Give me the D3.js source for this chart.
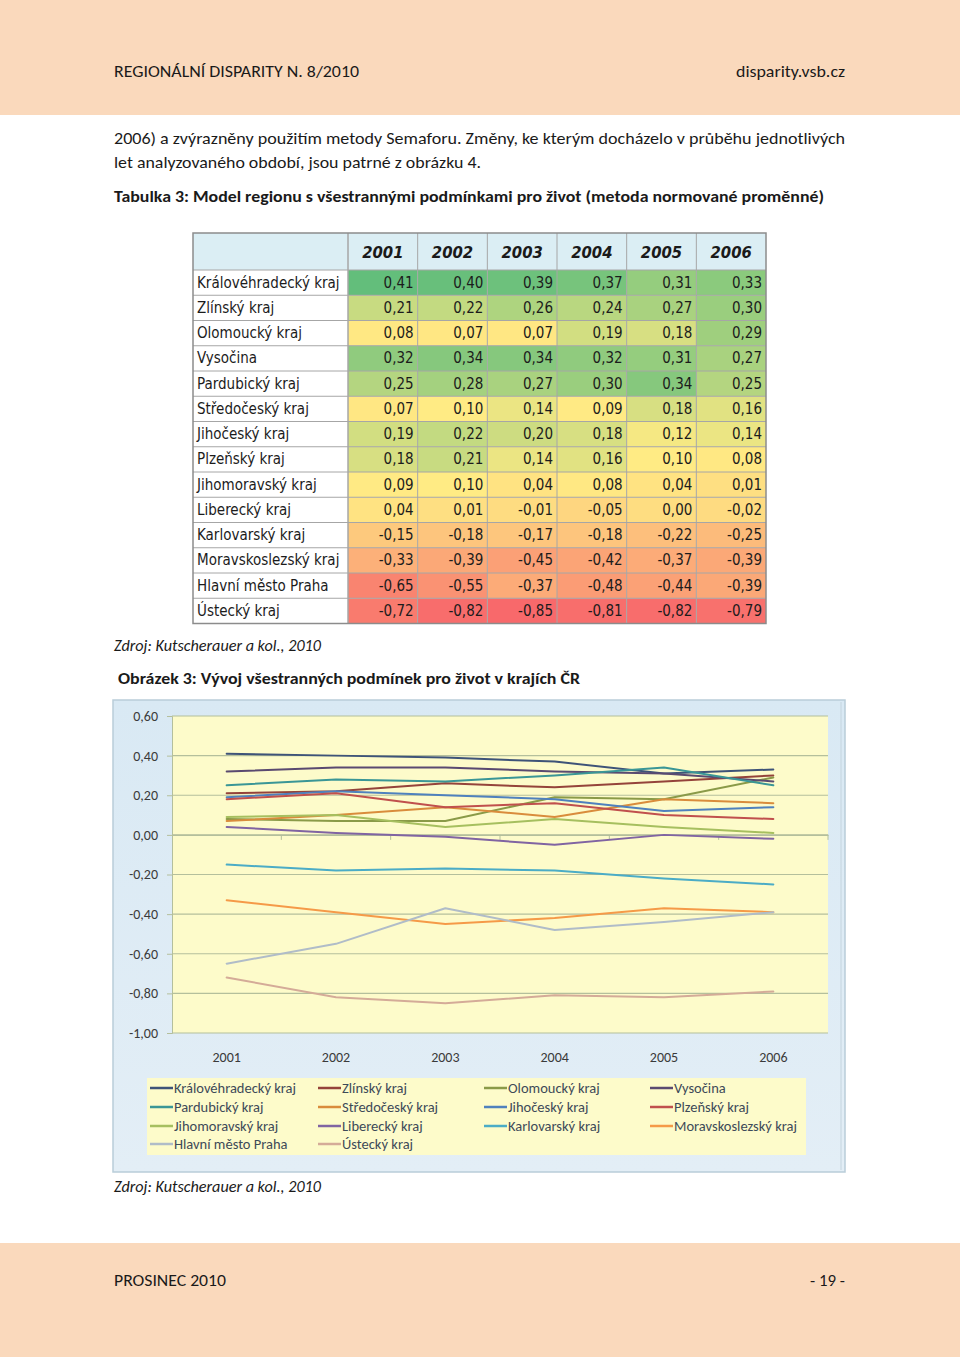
<!DOCTYPE html>
<html><head><meta charset="utf-8">
<script src="https://cdn.jsdelivr.net/npm/d3@7"></script>
<style>
html,body{margin:0;padding:0;background:#fff;}
svg{display:block;}
</style></head>
<body>
<svg id="page" width="960" height="1357"></svg>
<script>
// ---------- DATA ----------
const years = ["2001","2002","2003","2004","2005","2006"];
const regions = ["Královéhradecký kraj","Zlínský kraj","Olomoucký kraj","Vysočina","Pardubický kraj","Středočeský kraj","Jihočeský kraj","Plzeňský kraj","Jihomoravský kraj","Liberecký kraj","Karlovarský kraj","Moravskoslezský kraj","Hlavní město Praha","Ústecký kraj"];
const valKralovehradecky = [0.41,0.40,0.39,0.37,0.31,0.33];
const valZlinsky = [0.21,0.22,0.26,0.24,0.27,0.30];
const valOlomoucky = [0.08,0.07,0.07,0.19,0.18,0.29];
const valVysocina = [0.32,0.34,0.34,0.32,0.31,0.27];
const valPardubicky = [0.25,0.28,0.27,0.30,0.34,0.25];
const valStredocesky = [0.07,0.10,0.14,0.09,0.18,0.16];
const valJihocesky = [0.19,0.22,0.20,0.18,0.12,0.14];
const valPlzensky = [0.18,0.21,0.14,0.16,0.10,0.08];
const valJihomoravsky = [0.09,0.10,0.04,0.08,0.04,0.01];
const valLiberecky = [0.04,0.01,-0.01,-0.05,0.00,-0.02];
const valKarlovarsky = [-0.15,-0.18,-0.17,-0.18,-0.22,-0.25];
const valMoravskoslezsky = [-0.33,-0.39,-0.45,-0.42,-0.37,-0.39];
const valPraha = [-0.65,-0.55,-0.37,-0.48,-0.44,-0.39];
const valUstecky = [-0.72,-0.82,-0.85,-0.81,-0.82,-0.79];
const seriesValues = [valKralovehradecky,valZlinsky,valOlomoucky,valVysocina,valPardubicky,valStredocesky,valJihocesky,valPlzensky,valJihomoravsky,valLiberecky,valKarlovarsky,valMoravskoslezsky,valPraha,valUstecky];
const lineColors = ["#3e5378","#94433a","#8a9a48","#5a4a70","#3a9696","#d98c3c","#4f81bd","#c0504d","#a6bf5f","#8064a2","#4bacc6","#f59a48","#b0bcc8","#d4ab98"];
const yTicks = [-1.0,-0.8,-0.6,-0.4,-0.2,0.0,0.2,0.4,0.6];

// ---------- SETUP ----------
const svg = d3.select("#page");
const loc = d3.formatLocale({decimal:",",thousands:" ",grouping:[3],currency:["",""],minus:"-"});
const fmt = loc.format(".2f");
const textFont = "Carlito, Lato, 'Open Sans', sans-serif";

// page bands
svg.append("rect").attr("x",0).attr("y",0).attr("width",960).attr("height",115).attr("fill","#fad9bc");
svg.append("rect").attr("x",0).attr("y",1243).attr("width",960).attr("height",114).attr("fill","#fad9bc");

function txt(x,y,s,opt={}){
  const t = svg.append("text").attr("x",x).attr("y",y).text(s)
    .attr("font-family",opt.family||textFont).attr("font-size",opt.size||16)
    .attr("fill",opt.fill||"#1a1a1a");
  if(opt.weight) t.attr("font-weight",opt.weight);
  if(opt.style) t.attr("font-style",opt.style);
  if(opt.anchor) t.attr("text-anchor",opt.anchor);
  if(opt.len) t.attr("textLength",opt.len).attr("lengthAdjust","spacingAndGlyphs");
  return t;
}
txt(114,77,"REGIONÁLNÍ DISPARITY N. 8/2010",{len:245});
txt(845,77,"disparity.vsb.cz",{anchor:"end",len:109});
txt(114,144,"2006) a zvýrazněny použitím metody Semaforu. Změny, ke kterým docházelo v průběhu jednotlivých",{len:731});
txt(114,168,"let analyzovaného období, jsou patrné z obrázku 4.",{len:367});
txt(114,202,"Tabulka 3: Model regionu s všestrannými podmínkami pro život (metoda normované proměnné)",{weight:"bold",len:710});
txt(114,651,"Zdroj: Kutscherauer a kol., 2010",{style:"italic",len:207});
txt(118,684,"Obrázek 3: Vývoj všestranných podmínek pro život v krajích ČR",{weight:"bold",len:462});
txt(114,1192,"Zdroj: Kutscherauer a kol., 2010",{style:"italic",len:207});
txt(114,1286,"PROSINEC 2010",{len:112});
txt(845,1286,"- 19 -",{anchor:"end",len:35});

// ---------- TABLE ----------
const tbl = svg.append("g");
const tLeft = 193, tLabelRight = 348, tRight = 766, tTop = 233, tHeadBottom = 270, tBottom = 623.5;
const colX = d3.scaleBand().domain(years).range([tLabelRight,tRight]);
const rowY = d3.scaleBand().domain(regions).range([tHeadBottom,tBottom]);
const allVals = seriesValues.flat();
const heat = d3.scaleLinear()
  .domain([d3.min(allVals), d3.median(allVals), d3.max(allVals)])
  .range(["#f8696b","#ffeb84","#63be7b"]);
const tableFont = "'DejaVu Sans Condensed', Tahoma, 'DejaVu Sans', sans-serif";

tbl.append("rect").attr("x",tLeft).attr("y",tTop).attr("width",tRight-tLeft).attr("height",tHeadBottom-tTop).attr("fill","#dbeef4");
regions.forEach((r,i)=>{
  tbl.append("rect").attr("x",tLeft).attr("y",rowY(r)).attr("width",tLabelRight-tLeft).attr("height",rowY.bandwidth()).attr("fill","#ffffff");
  years.forEach((yr,j)=>{
    tbl.append("rect").attr("x",colX(yr)).attr("y",rowY(r)).attr("width",colX.bandwidth()).attr("height",rowY.bandwidth())
      .attr("fill",heat(seriesValues[i][j]));
    tbl.append("text").attr("x",colX(yr)+colX.bandwidth()-4).attr("y",rowY(r)+rowY.bandwidth()/2+5)
      .attr("text-anchor","end").attr("font-family",tableFont).attr("font-size",15).attr("fill","#1c1c1c")
      .text(fmt(seriesValues[i][j]));
  });
  const lt = tbl.append("text").attr("x",tLeft+4).attr("y",rowY(r)+rowY.bandwidth()/2+5)
    .attr("font-family",tableFont).attr("font-size",15).attr("fill","#1c1c1c").text(r);
  const w = lt.node().getComputedTextLength();
  if (w > 143) lt.attr("textLength",143).attr("lengthAdjust","spacingAndGlyphs");
});
years.forEach(yr=>{
  tbl.append("text").attr("x",colX(yr)+colX.bandwidth()/2).attr("y",(tTop+tHeadBottom)/2+6)
    .attr("text-anchor","middle").attr("font-family",tableFont).attr("font-size",16.5)
    .attr("font-weight","bold").attr("font-style","italic").attr("fill","#1a1a1a").text(yr);
});
// grid lines
const gridCol = "#a6a6a6";
[tLabelRight].concat(years.map(y=>colX(y))).forEach(x=>{
  tbl.append("line").attr("x1",x).attr("x2",x).attr("y1",tTop).attr("y2",tBottom).attr("stroke",gridCol).attr("stroke-width",1);
});
[tHeadBottom].concat(regions.map(r=>rowY(r)+rowY.bandwidth())).forEach(y=>{
  tbl.append("line").attr("x1",tLeft).attr("x2",tRight).attr("y1",y).attr("y2",y).attr("stroke",gridCol).attr("stroke-width",1);
});
tbl.append("rect").attr("x",tLeft).attr("y",tTop).attr("width",tRight-tLeft).attr("height",tBottom-tTop)
  .attr("fill","none").attr("stroke","#8c8c8c").attr("stroke-width",1.5);

// ---------- LINE CHART ----------
const ch = svg.append("g");
const cbLeft=113, cbTop=700, cbRight=845, cbBottom=1172;
const grad = svg.append("defs").append("linearGradient").attr("id","bgGrad").attr("x1",0).attr("y1",0).attr("x2",0).attr("y2",1);
grad.append("stop").attr("offset","0%").attr("stop-color","#d9e9f4");
grad.append("stop").attr("offset","100%").attr("stop-color","#e3eef6");
ch.append("rect").attr("x",cbLeft).attr("y",cbTop).attr("width",cbRight-cbLeft).attr("height",cbBottom-cbTop)
  .attr("fill","url(#bgGrad)").attr("stroke","#b9cdd9").attr("stroke-width",1.5);
ch.append("line").attr("x1",cbRight-4).attr("x2",cbRight-4).attr("y1",cbTop+2).attr("y2",cbBottom-2).attr("stroke","#c4d4de").attr("stroke-width",1);

const pL=172, pR=828, pT=716, pB=1033;
const x = d3.scaleBand().domain(years).range([pL,pR]);
const y = d3.scaleLinear().domain([-1,0.6]).range([pB,pT]);
ch.append("rect").attr("x",pL).attr("y",pT).attr("width",pR-pL).attr("height",pB-pT).attr("fill","#fdfbca");

// gridlines
ch.append("g").selectAll("line").data(yTicks).join("line")
  .attr("x1",pL).attr("x2",pR).attr("y1",d=>y(d)).attr("y2",d=>y(d))
  .attr("stroke","#b4bf9c").attr("stroke-width",1.2);

// y axis
const yAxis = d3.axisLeft(y).tickValues(yTicks).tickFormat(fmt).tickSize(5).tickPadding(9);
const gy = ch.append("g").attr("transform",`translate(${pL},0)`).call(yAxis);
gy.select(".domain").attr("stroke","#b4bf9c");
gy.selectAll(".tick line").attr("stroke","#b4bf9c");
gy.selectAll("text").attr("font-family",textFont).attr("font-size",14).attr("fill","#3a3a3a");

// category axis at zero
const xAxis = d3.axisBottom(x).tickSize(0).tickFormat("");
const gx0 = ch.append("g").attr("transform",`translate(0,${y(0)})`).call(xAxis);
gx0.select(".domain").attr("stroke","#b4bf9c").attr("stroke-width",1.2);
ch.append("g").selectAll("line").data(years.slice(1).concat(["end"])).join("line")
  .attr("x1",d=>d==="end"?pR:x(d)).attr("x2",d=>d==="end"?pR:x(d))
  .attr("y1",y(0)).attr("y2",y(0)+5).attr("stroke","#b4bf9c");
// category labels
ch.append("g").selectAll("text").data(years).join("text")
  .attr("x",d=>x(d)+x.bandwidth()/2).attr("y",1062).attr("text-anchor","middle")
  .attr("font-family",textFont).attr("font-size",14).attr("fill","#3a3a3a").text(d=>d);

// lines
const line = d3.line().x((d,i)=>x(years[i])+x.bandwidth()/2).y(d=>y(d));
ch.append("g").selectAll("path").data(seriesValues).join("path")
  .attr("d",line).attr("fill","none").attr("stroke",(d,i)=>lineColors[i])
  .attr("stroke-width",2).attr("stroke-linejoin","round").attr("stroke-linecap","round");

// legend
const lg = ch.append("g");
lg.append("rect").attr("x",147).attr("y",1078).attr("width",659).attr("height",77).attr("fill","#fdfbca");
const legCols = [150,318,484,650];
const legRows = [1088,1107,1126,1144];
regions.forEach((r,i)=>{
  const cx = legCols[i%4], cy = legRows[Math.floor(i/4)];
  lg.append("line").attr("x1",cx).attr("x2",cx+23).attr("y1",cy).attr("y2",cy).attr("stroke",lineColors[i]).attr("stroke-width",2.5);
  lg.append("text").attr("x",cx+24).attr("y",cy+5).attr("font-family",textFont)
    .attr("font-size",14.5).attr("fill","#3d4a58").text(r);
});
</script>
</body></html>
